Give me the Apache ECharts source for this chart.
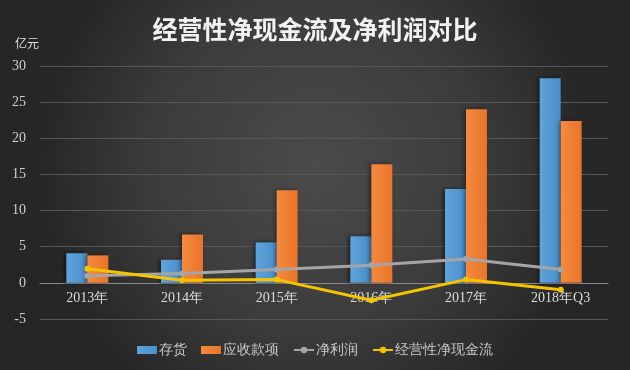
<!DOCTYPE html>
<html><head><meta charset="utf-8">
<script src="https://cdn.jsdelivr.net/npm/echarts@6/dist/echarts.min.js"></script>
<style>html,body{margin:0;padding:0;background:#333;}#c{width:630px;height:370px;}</style>
</head><body><div id="c"></div>
<script>
const categories = ['2013年','2014年','2015年','2016年','2017年','2018年Q3'];
const inventory = [4.1, 3.2, 5.6, 6.45, 13.0, 28.3];
const receivables = [3.8, 6.7, 12.8, 16.4, 24.0, 22.4];
const netProfit = [1.0, 1.3, 1.85, 2.45, 3.3, 1.85];
const operatingCF = [1.95, 0.35, 0.45, -2.4, 0.45, -0.95];
const yTicks = {min: -5, max: 30, interval: 5};

const serif = 'Liberation Serif';
const chart = echarts.init(document.getElementById('c'));
chart.setOption({
  animation: false,
  backgroundColor: {type:'radial', x:0.5, y:0.45, r:0.75,
    colorStops:[{offset:0,color:'#4b4b4b'},{offset:0.6,color:'#3b3b3b'},{offset:1,color:'#262626'}]},
  title: [{text:'经营性净现金流及净利润对比', left:'center', top:12,
    textStyle:{color:'#f2f2f2', fontSize:25, fontWeight:'bold', fontFamily:'Noto Sans CJK SC'}},
    {text:'亿元', left:10, top:32, textStyle:{color:'#e0e0e0', fontSize:12, fontWeight:'normal', fontFamily:'Noto Sans CJK SC'}}],
  grid: {left:40, right:22, top:66, bottom:51, containLabel:false},
  legend: {bottom:8, left:'center', itemGap:14, itemWidth:20, itemHeight:8,
    textStyle:{color:'#c8c8c8', fontSize:14, fontFamily:serif, padding:[0,0,0,-3]},
    data:[{name:'存货', icon:'rect'},{name:'应收款项', icon:'rect'},{name:'净利润'},{name:'经营性净现金流'}]},
  xAxis: {type:'category', data:categories, offset:-36,
    axisLine:{show:true, onZero:false, lineStyle:{color:'#8a8a8a', width:1}},
    axisTick:{show:false},
    axisLabel:{color:'#dcdcdc', fontSize:14, fontFamily:serif, margin:8}},
  yAxis: {type:'value', min:yTicks.min, max:yTicks.max, interval:yTicks.interval,
    axisLine:{show:false}, axisTick:{show:false},
    splitLine:{lineStyle:{color:'#575757', width:1}},
    axisLabel:{color:'#cfcfcf', fontSize:14, fontFamily:serif, margin:14}},
  series: [
    {name:'存货', type:'bar', data:inventory, barWidth:21, barGap:'0%',
      itemStyle:{shadowColor:'rgba(0,0,0,0.5)', shadowBlur:4, shadowOffsetX:-2,
        color:{type:'linear',x:0,y:0,x2:1,y2:0,colorStops:[{offset:0,color:'#5fa3dc'},{offset:1,color:'#4a8fcb'}]}}},
    {name:'应收款项', type:'bar', data:receivables, barWidth:21,
      itemStyle:{shadowColor:'rgba(0,0,0,0.4)', shadowBlur:4, shadowOffsetX:-2,
        color:{type:'linear',x:0,y:0,x2:1,y2:0,colorStops:[{offset:0,color:'#f58a3e'},{offset:1,color:'#e8742a'}]}}},
    {name:'净利润', type:'line', data:netProfit, symbol:'circle', symbolSize:6,
      lineStyle:{color:'#a5a5a5', width:3}, itemStyle:{color:'#a5a5a5'}},
    {name:'经营性净现金流', type:'line', data:operatingCF, symbol:'circle', symbolSize:6,
      lineStyle:{color:'#f5c400', width:3}, itemStyle:{color:'#f5c400'}}
  ]
});
</script></body></html>
